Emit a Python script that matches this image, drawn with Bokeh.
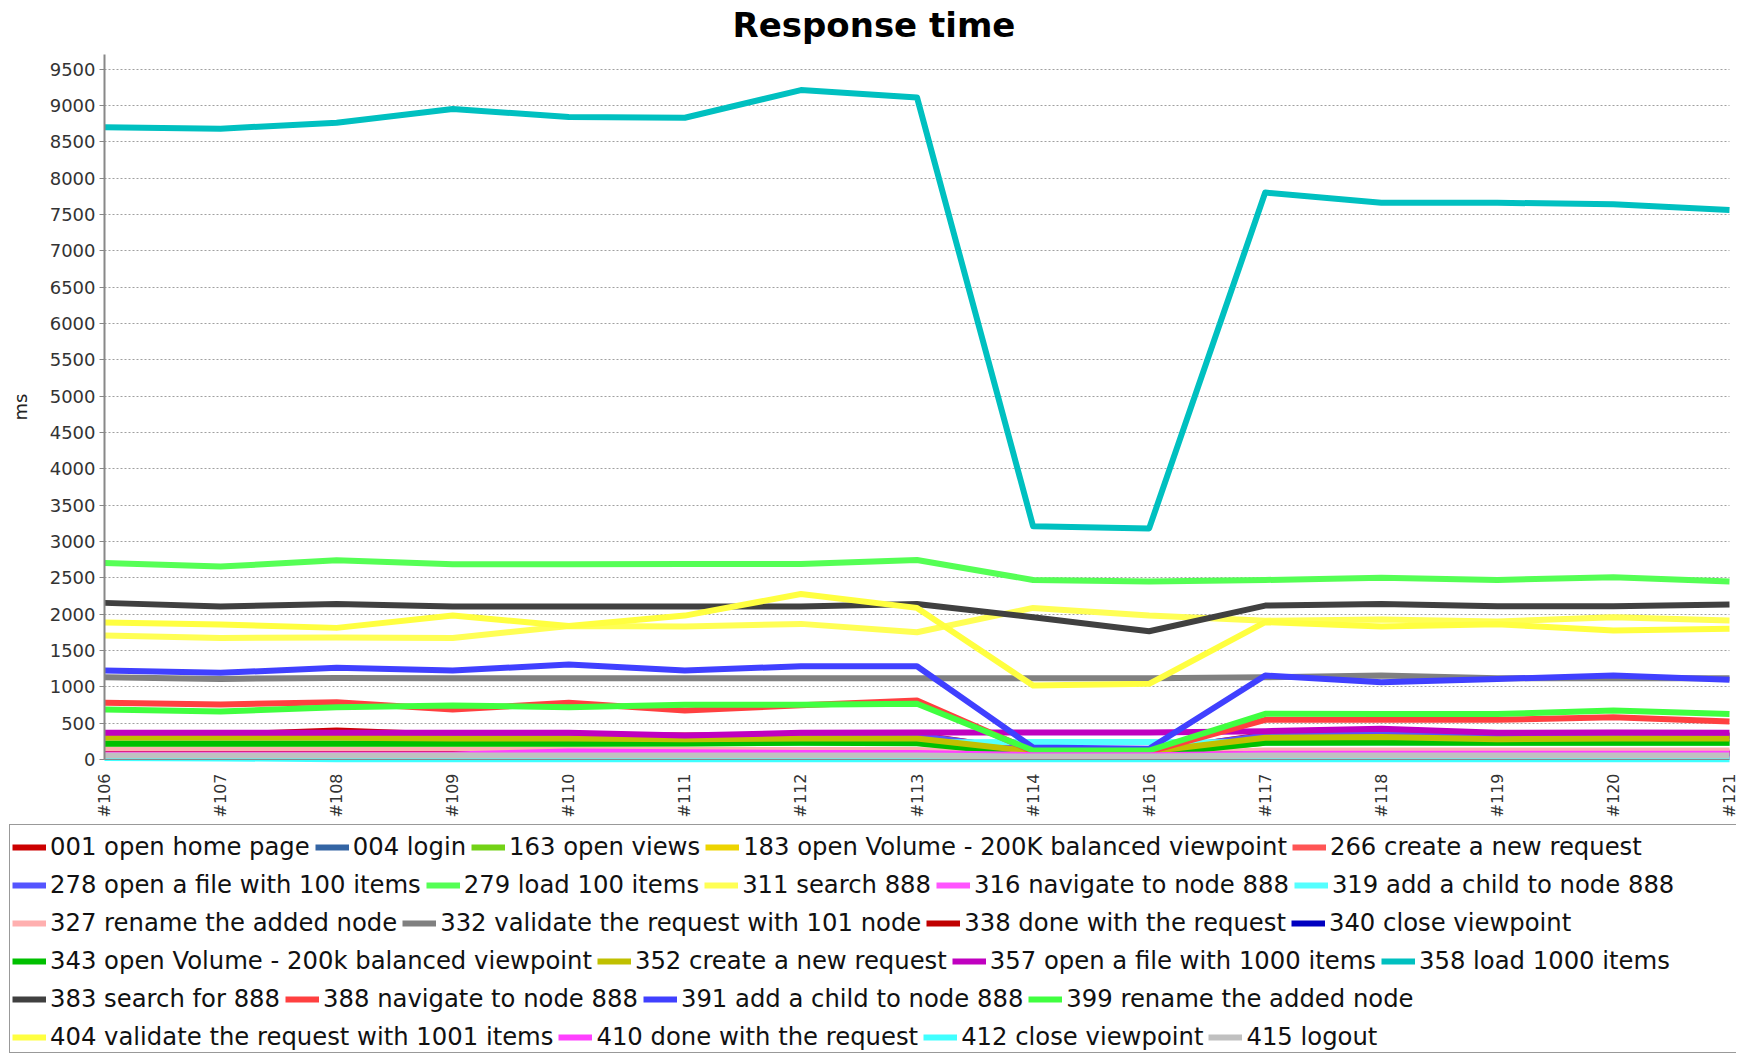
import math
from bokeh.plotting import figure
from bokeh.models import Range1d, FixedTicker, SingleIntervalTicker, Legend, LegendItem
from bokeh.embed import file_html
from bokeh.resources import INLINE

builds = ["#106", "#107", "#108", "#109", "#110", "#111", "#112", "#113",
          "#114", "#116", "#117", "#118", "#119", "#120", "#121"]

labels = [
    "001 open home page", "004 login", "163 open views",
    "183 open Volume - 200K balanced viewpoint", "266 create a new request",
    "278 open a file with 100 items", "279 load 100 items", "311 search 888",
    "316 navigate to node 888", "319 add a child to node 888",
    "327 rename the added node", "332 validate the request with 101 node",
    "338 done with the request", "340 close viewpoint",
    "343 open Volume - 200k balanced viewpoint", "352 create a new request",
    "357 open a file with 1000 items", "358 load 1000 items",
    "383 search for 888", "388 navigate to node 888", "391 add a child to node 888",
    "399 rename the added node", "404 validate the request with 1001 items",
    "410 done with the request", "412 close viewpoint", "415 logout",
]

colors = ["#CC0000", "#3465A4", "#73D216", "#EDD400", "#FF5555", "#5555FF",
          "#55FF55", "#FFFF55", "#FF55FF", "#55FFFF", "#FFAFAF", "#808080",
          "#C00000", "#0000C0", "#00C000", "#C0C000", "#C000C0", "#00C0C0",
          "#404040", "#FF4040", "#4040FF", "#40FF40", "#FFFF40", "#FF40FF",
          "#40FFFF", "#C0C0C0"]

# response times (ms) per build
s001 = [340, 340, 400, 340, 340, 330, 340, 340, 110, 110, 340, 350, 330, 330, 330]
s004 = [88, 88, 88, 88, 88, 88, 88, 88, 60, 60, 88, 88, 88, 88, 88]
s163 = [225, 225, 225, 225, 225, 225, 230, 230, 90, 90, 230, 230, 230, 230, 230]
s183 = [290, 290, 290, 290, 290, 285, 290, 290, 100, 100, 295, 300, 285, 290, 290]
s266 = [280, 280, 285, 280, 280, 275, 285, 285, 100, 100, 290, 295, 280, 285, 285]
s278 = [320, 320, 330, 320, 320, 310, 330, 330, 120, 120, 330, 340, 320, 320, 320]
s279 = [2705, 2655, 2740, 2686, 2686, 2690, 2690, 2745, 2470, 2450, 2470, 2500, 2470, 2508, 2448]
s311 = [1705, 1673, 1680, 1673, 1838, 1829, 1866, 1751, 2086, 1980, 1910, 1925, 1900, 1957, 1912]
s316 = [100, 100, 100, 100, 100, 100, 100, 100, 70, 70, 100, 100, 100, 100, 100]
s319 = [230, 230, 230, 230, 230, 230, 235, 235, 240, 240, 235, 235, 235, 235, 235]
s327 = [135, 135, 130, 130, 130, 130, 130, 130, 80, 80, 124, 124, 124, 124, 124]
s332 = [1132, 1109, 1123, 1119, 1119, 1119, 1119, 1119, 1119, 1119, 1132, 1155, 1119, 1119, 1119]
s338 = [75, 75, 75, 75, 75, 75, 75, 75, 50, 50, 75, 75, 75, 75, 75]
s340 = [50, 50, 50, 50, 50, 50, 50, 50, 40, 40, 50, 50, 50, 50, 50]
s343 = [215, 215, 215, 215, 215, 220, 230, 225, 70, 70, 230, 235, 230, 230, 230]
s352 = [300, 300, 300, 290, 290, 280, 290, 290, 110, 110, 300, 310, 280, 290, 290]
s357 = [367, 367, 367, 367, 367, 330, 367, 370, 372, 372, 390, 422, 367, 370, 367]
s358 = [8700, 8680, 8760, 8950, 8840, 8830, 9210, 9110, 3210, 3180, 7800, 7660, 7660, 7640, 7560]
s383 = [2155, 2104, 2140, 2104, 2104, 2104, 2104, 2140, 1957, 1765, 2118, 2140, 2108, 2108, 2132]
s388 = [780, 757, 788, 688, 780, 674, 745, 811, 110, 110, 546, 546, 546, 582, 522]
s391 = [1224, 1192, 1261, 1224, 1306, 1224, 1283, 1283, 165, 147, 1155, 1063, 1109, 1155, 1096]
s399 = [688, 660, 720, 743, 720, 752, 752, 766, 124, 124, 628, 625, 625, 674, 625]
s404 = [1884, 1857, 1811, 1980, 1838, 1980, 2278, 2086, 1018, 1041, 1890, 1830, 1860, 1775, 1800]
s410 = [70, 70, 70, 70, 110, 100, 90, 90, 60, 60, 80, 80, 80, 80, 80]
s412 = [20, 15, 5, 5, 5, 5, 5, 5, 5, 5, 5, 5, 5, 5, 5]
s415 = [55, 55, 55, 55, 55, 55, 55, 55, 40, 40, 55, 55, 55, 55, 55]

series = [s001, s004, s163, s183, s266, s278, s279, s311, s316, s319, s327,
          s332, s338, s340, s343, s352, s357, s358, s383, s388, s391, s399,
          s404, s410, s412, s415]

legend_rows = [5, 5, 4, 4, 4, 4]

FONT = "DejaVu Sans"
xs = list(range(len(builds)))
Y_MAX = 9700

# page geometry (pixels)
W, H = 1740, 1056
FRAME_L, FRAME_R, FRAME_T, FRAME_B = 8, 1736, 44, 1054   # drawing frame
PLOT_L, PLOT_R, PLOT_T, PLOT_B = 104, 1729, 54, 759      # data area inside frame

# ranges extended so the data area sits at PLOT_* and the legend fits below it
ux = (PLOT_R - PLOT_L) / (len(builds) - 1)
uy = (PLOT_B - PLOT_T) / Y_MAX
x_range = Range1d(-(PLOT_L - FRAME_L) / ux, (len(builds) - 1) + (FRAME_R - PLOT_R) / ux)
y_range = Range1d(-(FRAME_B - PLOT_B) / uy, Y_MAX + (PLOT_T - FRAME_T) / uy)

p = figure(width=W, height=H, output_backend="svg", toolbar_location=None,
           x_range=x_range, y_range=y_range,
           min_border_left=FRAME_L, min_border_right=W - FRAME_R,
           min_border_top=FRAME_T, min_border_bottom=H - FRAME_B,
           title="Response time")
p.outline_line_color = None
p.background_fill_color = "white"
p.border_fill_color = "white"

p.title.text_font = FONT
p.title.text_font_size = "34px"
p.title.text_font_style = "bold"
p.title.text_color = "#000000"
p.title.align = "left"
p.title.offset = 724
p.title.standoff = 0

renderers = []
for vals, c in zip(series, colors):
    renderers.append(p.line(xs, vals, line_color=c, line_width=6, line_join="round"))

p.xgrid.visible = False
p.ygrid.grid_line_color = "#a0a0a0"
p.ygrid.grid_line_dash = "2 2"
p.ygrid.grid_line_width = 1
p.ygrid.bounds = (0, Y_MAX)
p.ygrid.cross_bounds = (0, len(builds) - 1)

p.xaxis.fixed_location = 0
p.xaxis.bounds = (0, len(builds) - 1)
p.xaxis.ticker = FixedTicker(ticks=xs)
p.xaxis.major_label_overrides = {i: b for i, b in enumerate(builds)}
p.xaxis.major_label_orientation = math.pi / 2
p.xaxis.major_label_text_font = FONT
p.xaxis.major_label_text_font_size = "16px"
p.xaxis.major_label_text_color = "#333333"
p.xaxis.major_label_standoff = 8
p.xaxis.major_tick_line_color = None
p.xaxis.minor_tick_line_color = None
p.xaxis.axis_line_color = "#888888"

p.yaxis.fixed_location = 0
p.yaxis.bounds = (0, Y_MAX)
p.yaxis.ticker = SingleIntervalTicker(interval=500, num_minor_ticks=0)
p.yaxis.major_label_text_font = FONT
p.yaxis.major_label_text_font_size = "18px"
p.yaxis.major_label_text_color = "#333333"
p.yaxis.major_tick_out = 5
p.yaxis.major_tick_in = 0
p.yaxis.major_tick_line_color = "#888888"
p.yaxis.minor_tick_line_color = None
p.yaxis.axis_line_color = "#888888"
p.yaxis.axis_line_width = 2
p.yaxis.major_label_standoff = 4
p.yaxis.axis_label = "ms"
p.yaxis.axis_label_text_font = FONT
p.yaxis.axis_label_text_font_size = "18px"
p.yaxis.axis_label_text_font_style = "normal"
p.yaxis.axis_label_text_color = "#222222"
p.yaxis.axis_label_standoff = 16

# legend frame (box)
BOX_L, BOX_R, BOX_T, BOX_B = 9, 1735, 826, 1053
box = Legend(items=[LegendItem(label=" ", renderers=[])],
             location=(BOX_L - FRAME_L, FRAME_B - BOX_B), padding=0, margin=0,
             glyph_width=1, glyph_height=1, label_standoff=0,
             label_width=BOX_R - BOX_L - 1, label_height=BOX_B - BOX_T,
             label_text_font_size="1px", border_line_color="#333333",
             border_line_width=1.5, background_fill_color="white",
             background_fill_alpha=1.0)
p.add_layout(box)

row_step = 38
first_center = 847
h = 28
start = 0
for k, n in enumerate(legend_rows):
    items = [LegendItem(label=labels[i], renderers=[renderers[i]])
             for i in range(start, start + n)]
    start += n
    center = first_center + k * row_step
    leg = Legend(items=items, orientation="horizontal",
                 location=(12 - FRAME_L, (FRAME_B - center) - h / 2),
                 padding=0, margin=0, spacing=5, glyph_width=34, glyph_height=h,
                 label_height=h, label_standoff=4, label_text_font=FONT,
                 label_text_font_size="24.3px", label_text_color="#111111",
                 border_line_alpha=0, background_fill_alpha=0)
    p.add_layout(leg)

open("out.html", "w").write(file_html(p, INLINE))
